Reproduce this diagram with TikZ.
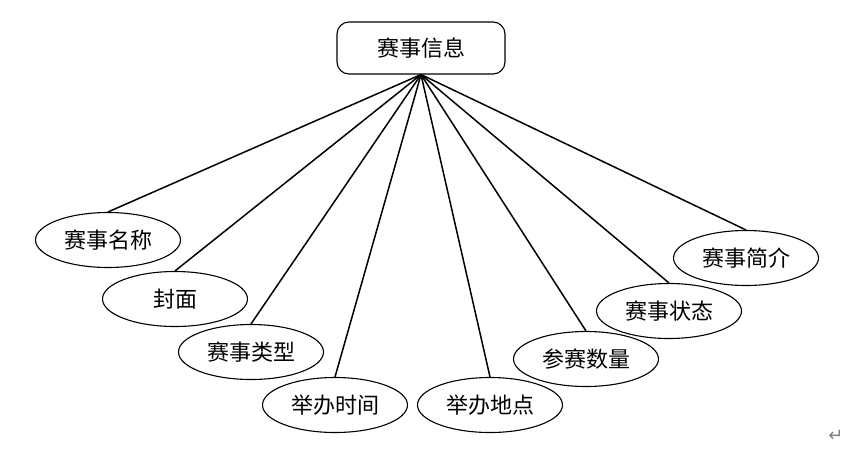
\documentclass[tikz,border=0pt]{standalone}
\usepackage{fontspec}
\newfontfamily\cjk{Noto Sans CJK SC}
\newfontfamily\symfont{DejaVu Sans}
\usetikzlibrary{shapes.geometric}

\begin{document}
\begin{tikzpicture}[x=1pt,y=-1pt,
		every node/.style={font=\cjk\fontsize{22}{26}\selectfont},
		entity/.style={draw,line width=1.1pt,rounded corners=12pt,minimum width=168pt,minimum height=52pt,inner sep=0pt},
		attr/.style={draw,line width=1.1pt,ellipse,minimum width=145pt,minimum height=55pt,inner sep=0pt},
		link/.style={line width=1.5pt}]
		\useasboundingbox (0,0) rectangle (863,456);
		\node[entity] (info) at (421,48) {赛事信息};
	%	attributes, left to right
		\node[attr] (name) at (108,240) {赛事名称};
		\node[attr] (cover) at (175,299) {封面};
		\node[attr] (type) at (251,352) {赛事类型};
		\node[attr] (time) at (335,405) {举办时间};
		\node[attr] (place) at (490,405) {举办地点};
		\node[attr] (count) at (586,359) {参赛数量};
		\node[attr] (state) at (669,311) {赛事状态};
		\node[attr] (intro) at (746,258) {赛事简介};
	%	links
		\draw[link] (info.south) -- (name.north);
		\draw[link] (info.south) -- (cover.north);
		\draw[link] (info.south) -- (type.north);
		\draw[link] (info.south) -- (time.north);
		\draw[link] (info.south) -- (place.north);
		\draw[link] (info.south) -- (count.north);
		\draw[link] (info.south) -- (state.north);
		\draw[link] (info.south) -- (intro.north);
		\node[font=\symfont\fontsize{18}{20}\selectfont,text=gray] (ret) at (836,436) {↵};
	\end{tikzpicture}
\end{document}
